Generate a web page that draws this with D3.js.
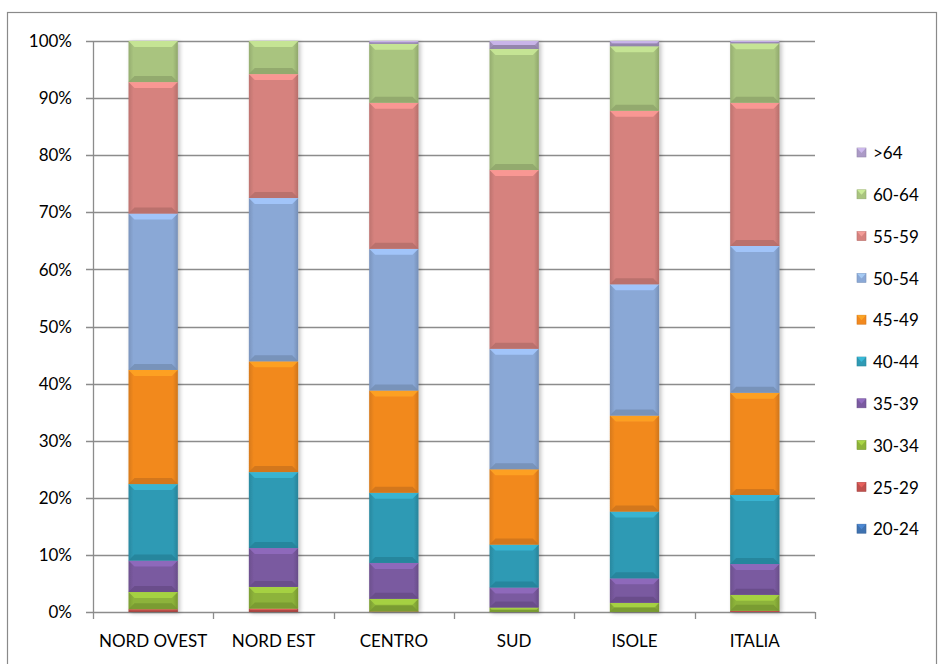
<!DOCTYPE html>
<html><head><meta charset="utf-8">
<script src="https://cdn.jsdelivr.net/npm/d3@7"></script>
<style>body{margin:0;background:#fff}svg{display:block}text{font-family:Lato,"Open Sans",sans-serif}</style>
</head><body><svg id="c" width="938" height="664"></svg>
<script>
const categories = ["NORD OVEST","NORD EST","CENTRO","SUD","ISOLE","ITALIA"];
const seriesNames = ["20-24","25-29","30-34","35-39","40-44","45-49","50-54","55-59","60-64",">64"];
const s20_24 = [0,0,0,0,0,0];
const s25_29 = [0.5,0.6,0.1,0,0,0.2];
const s30_34 = [3.0,3.8,2.2,0.8,1.6,2.8];
const s35_39 = [5.5,6.8,6.3,3.5,4.3,5.4];
const s40_44 = [13.4,13.3,12.3,7.5,11.7,12.1];
const s45_49 = [20.0,19.4,17.9,13.2,16.8,17.9];
const s50_54 = [27.4,28.6,24.8,21.1,23.0,25.7];
const s55_59 = [23.0,21.7,25.6,31.3,30.4,25.1];
const s60_64 = [7.2,5.8,10.3,21.2,11.3,10.4];
const s64p  = [0,0,0.5,1.4,0.9,0.4];
const yTicks = [0,10,20,30,40,50,60,70,80,90,100];
const colors = ["#3f72b0","#c0504d","#8db33a","#7a5aa0","#2f9ab4","#f2891f","#8aa8d6","#d6827e","#a9c47f","#ab9ac6"];

const seriesVals = [s20_24,s25_29,s30_34,s35_39,s40_44,s45_49,s50_54,s55_59,s60_64,s64p];
const rows = categories.map((c,i)=>{const o={cat:c}; seriesNames.forEach((s,j)=>o[s]=seriesVals[j][i]); return o;});
rows.forEach(r=>{const t=d3.sum(seriesNames,s=>r[s]); seriesNames.forEach(s=>r[s]=r[s]/t*100);});
const stack = d3.stack().keys(seriesNames)(rows);

const svg = d3.select("#c");
svg.append("rect").attr("x",7.5).attr("y",12.5).attr("width",929).attr("height",660).attr("fill","none").attr("stroke","#8a8a8a").attr("stroke-width",1.2);

const L=93,R=815,T=41,B=612;
const x = d3.scaleBand().domain(categories).range([L,R]).paddingInner(0.59).paddingOuter(0.295);
const y = d3.scaleLinear().domain([0,100]).range([B,T]);

const defs = svg.append("defs");
colors.forEach((c,i)=>{
  const g = defs.append("linearGradient").attr("id","g"+i).attr("x1","0").attr("x2","1").attr("y1","0").attr("y2","0");
  const base=d3.color(c);
  g.append("stop").attr("offset","0").attr("stop-color",base.darker(0.35));
  g.append("stop").attr("offset","0.1").attr("stop-color",base);
  g.append("stop").attr("offset","0.9").attr("stop-color",base);
  g.append("stop").attr("offset","1").attr("stop-color",base.darker(0.45));
});
const sh = defs.append("filter").attr("id","sh").attr("x","-20%").attr("y","-5%").attr("width","140%").attr("height","110%");
sh.append("feGaussianBlur").attr("in","SourceAlpha").attr("stdDeviation",2);
sh.append("feOffset").attr("dx",2).attr("dy",1).attr("result","b");
sh.append("feComponentTransfer").append("feFuncA").attr("type","linear").attr("slope",0.25);
const mg = sh.append("feMerge"); mg.append("feMergeNode"); mg.append("feMergeNode").attr("in","SourceGraphic");

svg.append("g").selectAll("line").data(yTicks).join("line")
  .attr("x1",L-7).attr("x2",R).attr("y1",d=>Math.round(y(d))+0.5).attr("y2",d=>Math.round(y(d))+0.5)
  .attr("stroke","#8c8c8c").attr("stroke-width",1.3);
svg.append("line").attr("x1",L+0.5).attr("x2",L+0.5).attr("y1",T).attr("y2",B+0.5).attr("stroke","#8c8c8c").attr("stroke-width",1.3);
const bounds = [L].concat(categories.map(c=>x(c)+x.bandwidth()/2+x.step()/2));
svg.append("g").selectAll("line").data(bounds).join("line")
  .attr("x1",d=>Math.round(d)+0.5).attr("x2",d=>Math.round(d)+0.5).attr("y1",B).attr("y2",B+7)
  .attr("stroke","#8c8c8c").attr("stroke-width",1.3);

svg.append("g").selectAll("text").data(yTicks).join("text")
  .attr("x",72).attr("y",d=>y(d)).attr("dy","0.36em").attr("text-anchor","end")
  .attr("font-size",17).attr("fill","#000").text(d=>d+"%");
svg.append("g").selectAll("text").data(categories).join("text")
  .attr("x",d=>x(d)+x.bandwidth()/2).attr("y",647).attr("text-anchor","middle")
  .attr("font-size",17).attr("fill","#000").text(d=>d);

const bw = x.bandwidth();
const barsG = svg.append("g").attr("filter","url(#sh)");
stack.forEach((layer,i)=>{
  const g = barsG.append("g");
  layer.forEach(d=>{
    const x0=x(d.data.cat), y0=y(d[1]), y1=y(d[0]), h=y1-y0;
    if(h<=0.05) return;
    const base=d3.color(colors[i]);
    g.append("rect").attr("x",x0).attr("y",y0).attr("width",bw).attr("height",h).attr("fill","url(#g"+i+")");
    const b=Math.min(6,h/2);
    g.append("path").attr("d",`M${x0},${y0}L${x0+bw},${y0}L${x0+bw-b},${y0+b}L${x0+b},${y0+b}Z`).attr("fill",base.brighter(0.5)).attr("opacity",0.85);
    g.append("path").attr("d",`M${x0},${y1}L${x0+bw},${y1}L${x0+bw-b},${y1-b}L${x0+b},${y1-b}Z`).attr("fill",base.darker(0.5)).attr("opacity",0.8);
  });
});

const leg = svg.append("g");
const legOrder = seriesNames.slice().reverse();
legOrder.forEach((s,k)=>{
  const i = seriesNames.indexOf(s);
  const cy = 153 + k*41.8;
  const base=d3.color(colors[i]);
  leg.append("rect").attr("x",857).attr("y",cy-5).attr("width",9).attr("height",9).attr("fill",base).attr("stroke",base.darker(0.4)).attr("stroke-width",0.6);
  leg.append("path").attr("d",`M857,${cy-5}L866,${cy-5}L861.5,${cy}Z`).attr("fill",base.brighter(0.7)).attr("opacity",0.7);
  leg.append("text").attr("x",873).attr("y",cy).attr("dy","0.36em").attr("font-size",17).attr("fill","#000").text(s);
});
</script></body></html>
